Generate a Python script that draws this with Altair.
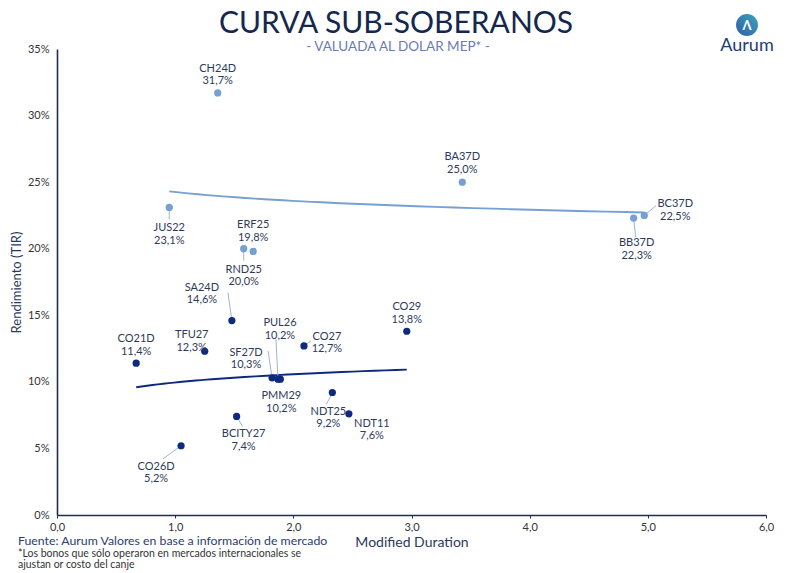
import altair as alt
import pandas as pd

# ---------------- data ----------------
bonos = ["CH24D", "BA37D", "BC37D", "BB37D", "JUS22", "ERF25", "RND25",
         "SA24D", "TFU27", "CO21D", "PUL26", "SF27D", "PMM29", "CO27",
         "CO29", "NDT25", "NDT11", "BCITY27", "CO26D"]
duracion = [1.36, 3.43, 4.97, 4.88, 0.95, 1.66, 1.58,
            1.48, 1.25, 0.67, 1.87, 1.82, 1.89, 2.09,
            2.96, 2.33, 2.47, 1.52, 1.05]
tir = [31.7, 25.0, 22.5, 22.3, 23.1, 19.8, 20.0,
       14.6, 12.3, 11.4, 10.2, 10.3, 10.2, 12.7,
       13.8, 9.2, 7.6, 7.4, 5.2]
grupo = ["Internacional"] * 7 + ["Local"] * 12

# ---------------- label layout (pixels, relative to point) ----------------
label_dx = [0, 0, 31, 3, 0, 0, 0, -30, -13, 0, 2, -26, 1, 23, 0, -4, 23, 7, -25]
label_dy = [-24, -25, -11, 25, 21, -26, 21, -33, -16, -24, -56, -25, 17, -9, -24, 19, 10, 18, 21]
leader_dx = [None, None, 12, 2, 0, None, 0, -4, None, None, -2, -4, None, 7, None, -6, None, 6, -18]
leader_dy = [None, None, -10, 19, 12, None, 12, -28, None, None, -40, -27, None, -5, None, 12, None, 10, 13]

W, H = 709, 466
PXX = W / 6.0
PXY = H / 35.0

df = pd.DataFrame({"bono": bonos, "dur": duracion, "tir": tir, "grupo": grupo})
df["etiqueta"] = [f"{b}\n{str(f'{t:.1f}').replace('.', ',')}%" for b, t in zip(bonos, tir)]
df["lx"] = df["dur"] + pd.Series(label_dx) / PXX
df["ly"] = df["tir"] - pd.Series(label_dy) / PXY

lead = df.copy()
lead["ex"] = [d + (e / PXX) if e is not None else None for d, e in zip(duracion, leader_dx)]
lead["ey"] = [t - (e / PXY) if e is not None else None for t, e in zip(tir, leader_dy)]
lead = lead.dropna(subset=["ex", "ey"])

DARK = "#0e2a7e"
LIGHT = "#77a0d2"
TXT = "#2e3a5a"
FONT = "Lato"

color = alt.Color("grupo:N", scale=alt.Scale(domain=["Internacional", "Local"],
                                              range=[LIGHT, DARK]), legend=None)

xs = alt.Scale(domain=[0, 6], nice=False)
ys = alt.Scale(domain=[0, 35], nice=False)

x_axis = alt.Axis(values=[0, 1, 2, 3, 4, 5, 6],
                  labelExpr="replace(format(datum.value, '.1f'), '.', ',')",
                  title="Modified Duration", titleFont=FONT, titleFontSize=14,
                  titleFontWeight="normal", titleColor="#2b3a5c", titleY=27,
                  titleBaseline="middle",
                  labelFont=FONT, labelFontSize=11, labelColor="#333333",
                  labelPadding=3, tickSize=3, tickColor="#1f2d50",
                  labelFlush=False, labelOverlap=False,
                  domainColor="#1f2d50", domainWidth=1.6, grid=False)
y_axis = alt.Axis(values=[0, 5, 10, 15, 20, 25, 30, 35],
                  labelExpr="datum.value + '%'",
                  title="Rendimiento (TIR)", titleFont=FONT, titleFontSize=13,
                  titleFontWeight="normal", titleColor="#2b3a5c",
                  titleX=-41, titleY=H / 2, titleBaseline="middle", titleAlign="center",
                  labelFont=FONT, labelFontSize=11, labelColor="#333333",
                  labelPadding=8, ticks=False, labelFlush=False, labelOverlap=False,
                  domainColor="#1f2d50", domainWidth=1.6, grid=False)

base = alt.Chart(df)

trend = base.transform_regression(
    "dur", "tir", method="log", groupby=["grupo"]
).mark_line(strokeWidth=1.9).encode(
    x=alt.X("dur:Q", scale=xs, axis=x_axis),
    y=alt.Y("tir:Q", scale=ys, axis=y_axis),
    color=color,
)

leaders = alt.Chart(lead).mark_rule(color="#9fb3d3", strokeWidth=1).encode(
    x=alt.X("dur:Q", scale=xs), y=alt.Y("tir:Q", scale=ys),
    x2="ex:Q", y2="ey:Q",
)

points = base.mark_circle(size=52, opacity=1).encode(
    x=alt.X("dur:Q", scale=xs), y=alt.Y("tir:Q", scale=ys), color=color,
)

labels = base.mark_text(font=FONT, fontSize=11, color=TXT, lineBreak="\n",
                        align="center", baseline="middle", lineHeight=12.5).encode(
    x=alt.X("lx:Q", scale=xs), y=alt.Y("ly:Q", scale=ys), text="etiqueta:N",
)

one = alt.Chart(pd.DataFrame({"k": [0]}))


def txt(s, x, y, size, col, align="center", weight="normal", font=FONT,
        baseline="middle"):
    return one.mark_text(text=s, fontSize=size, color=col, align=align,
                         baseline=baseline, fontWeight=weight, font=font).encode(
        x=alt.value(x), y=alt.value(y))


title = txt("CURVA SUB-SOBERANOS", 339, -16, 30, "#14284f", baseline="alphabetic")
subtitle = txt("- VALUADA AL DOLAR MEP* -", 341, 2, 13.5, "#6b7bb2", baseline="alphabetic")

footer1 = txt("Fuente: Aurum Valores en base a información de mercado", -39, 492, 12.3,
              "#2b3d6b", align="left")
footer2 = txt("*Los bonos que sólo operaron en mercados internacionales se", -39, 505, 10.5,
              "#333333", align="left")
footer3 = txt("ajustan or costo del canje", -39, 516, 10.5, "#333333", align="left")

logo_circle = one.mark_circle(
    size=480, opacity=1,
    fill=alt.Gradient(gradient="linear",
                      stops=[alt.GradientStop(color="#2f5fa8", offset=0),
                             alt.GradientStop(color="#3aa3bc", offset=1)],
                      x1=0, x2=1, y1=1, y2=0)
).encode(x=alt.value(690), y=alt.value(-24))
logo_a = txt("Λ", 690, -23, 13, "white", weight="bold")
logo_txt = txt("Aurum", 690, -3, 18, "#1d3c78")

chart = alt.layer(
    trend, leaders, points, labels, title, subtitle, footer1, footer2, footer3,
    logo_circle, logo_a, logo_txt
).properties(
    width=W, height=H,
    autosize=alt.AutoSizeParams(type="none"),
    padding={"left": 49, "top": 41, "right": 18, "bottom": 56},
).configure_view(stroke=None)

chart.save("out.html", embed_options={"renderer": "svg", "actions": False})
